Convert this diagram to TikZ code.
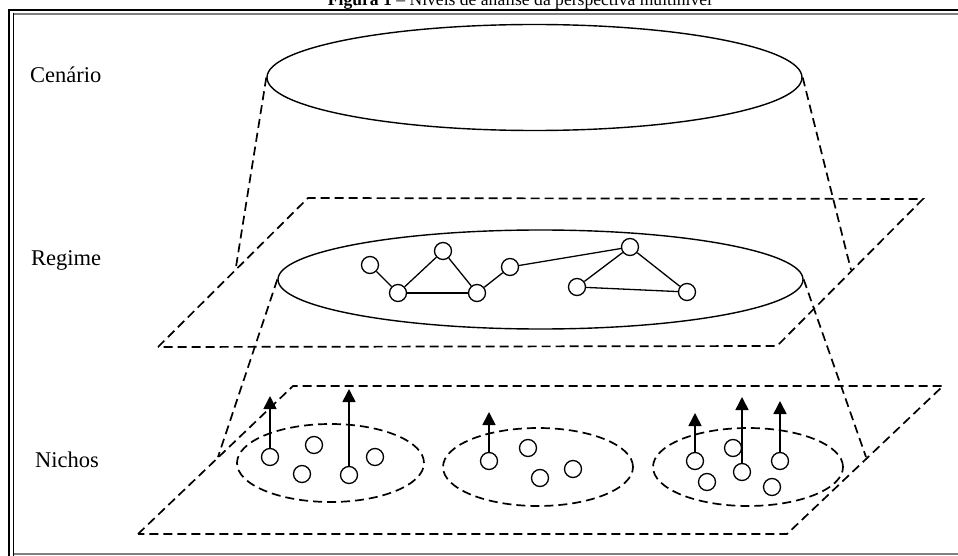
\documentclass[tikz,border=0pt]{standalone}
\usepackage{fontspec}
\setmainfont{Liberation Serif}
\usetikzlibrary{arrows.meta,shapes.geometric}
\begin{document}
\begin{tikzpicture}[x=1pt,y=-1pt,
  dashpat/.style={dash pattern=on 9pt off 5pt, line width=1.7pt},
  solidell/.style={ellipse, draw, line width=1.4pt, inner sep=0pt},
  nicheell/.style={ellipse, draw, dash pattern=on 9pt off 5pt, line width=1.7pt, inner sep=0pt},
  dot/.style={circle, draw, line width=1.3pt, minimum size=17pt, inner sep=0pt, fill=white},
  lbl/.style={font=\fontsize{22.5}{27}\selectfont, anchor=base west, inner sep=0pt},
  uparrow/.style={-{Triangle[width=13pt,length=13pt]}, line width=1.6pt},
  edge/.style={line width=1.3pt}]
\useasboundingbox (0,0) rectangle (958,556);
% frame
\draw[line width=2pt] (9,556) -- (9,10) -- (958,10);
\draw[gray, line width=2pt] (13,14) -- (958,14);
\draw[gray, line width=1.5pt] (14,554) -- (958,554);
\draw[line width=1.3pt] (13.5,13) -- (13.5,556);
% title
\node[anchor=base, inner sep=0pt, font=\fontsize{17.6}{20}\selectfont] (title) at (520,6) {\textbf{Figura 1} – Níveis de análise da perspectiva multinível};
% labels
\node[lbl] (lc) at (30,83) {Cenário};
\node[lbl] (lr) at (31,265) {Regime};
\node[lbl] (ln) at (35,467) {Nichos};
% planes
\coordinate (rp1) at (158,347); \coordinate (rp2) at (308,198);
\coordinate (rp3) at (923,199); \coordinate (rp4) at (777,346);
\draw[dashpat] (rp1) -- (rp2) -- (rp3) -- (rp4) -- cycle;
\coordinate (np1) at (138,534); \coordinate (np2) at (293,386);
\coordinate (np3) at (943,386); \coordinate (np4) at (787,534);
\draw[dashpat] (np1) -- (np2) -- (np3) -- (np4) -- cycle;
% ellipses
\node[solidell, minimum width=535pt, minimum height=106pt] (cen) at (534.5,77.5) {};
\node[solidell, fill=white, minimum width=525pt, minimum height=99pt] (reg) at (540.5,279.5) {};
% cone lines
\coordinate (c1) at (235.5,270); \coordinate (c2) at (851,270);
\draw[dashpat] (cen.west) -- (c1);
\draw[dashpat] (cen.east) -- (c2);
\coordinate (c3) at (218,457); \coordinate (c4) at (866,457);
\draw[dashpat] (reg.west) -- (c3);
\draw[dashpat] (reg.east) -- (c4);
% regime network
\node[dot] (A) at (370,265) {};
\node[dot] (B) at (398,293) {};
\node[dot] (C) at (443,251) {};
\node[dot] (D) at (477,293) {};
\node[dot] (E) at (510,267) {};
\node[dot] (F) at (630,247) {};
\node[dot] (G) at (577,287) {};
\node[dot] (H) at (687,292) {};
\draw[edge] (A) -- (B); \draw[edge] (B) -- (C); \draw[edge] (C) -- (D);
\draw[edge] (B) -- (D); \draw[edge] (D) -- (E); \draw[edge] (E) -- (F);
\draw[edge] (F) -- (G); \draw[edge] (F) -- (H); \draw[edge] (G) -- (H);
% niches
\node[nicheell, minimum width=187pt, minimum height=78pt] (n1) at (330.5,463) {};
\node[nicheell, minimum width=190pt, minimum height=78pt] (n2) at (538,467) {};
\node[nicheell, minimum width=190pt, minimum height=78pt] (n3) at (748,467) {};
% niche 1
\node[dot] (a1) at (270,457) {};
\node[dot] (a2) at (314,445) {};
\node[dot] (a3) at (302,474) {};
\node[dot] (a4) at (349,475) {};
\node[dot] (a5) at (375,457) {};
\coordinate (ta1) at (270,396); \coordinate (ta4) at (349,389);
\draw[uparrow] (a1.north) -- (ta1);
\draw[uparrow] (a4.north) -- (ta4);
% niche 2
\node[dot] (b1) at (489,461) {};
\node[dot] (b2) at (528,448) {};
\node[dot] (b3) at (540,478) {};
\node[dot] (b4) at (573,469) {};
\coordinate (tb1) at (489,412);
\draw[uparrow] (b1.north) -- (tb1);
% niche 3
\node[dot] (d1) at (695,461) {};
\node[dot] (d2) at (707,482) {};
\node[dot] (d3) at (733,448) {};
\node[dot] (d4) at (742,472) {};
\node[dot] (d5) at (780,461) {};
\node[dot] (d6) at (772,487) {};
\coordinate (td1) at (695,413); \coordinate (td4) at (742,397); \coordinate (td5) at (780,401);
\draw[uparrow] (d1.north) -- (td1);
\draw[uparrow] (d4.north) -- (td4);
\draw[uparrow] (d5.north) -- (td5);
\end{tikzpicture}
\end{document}
